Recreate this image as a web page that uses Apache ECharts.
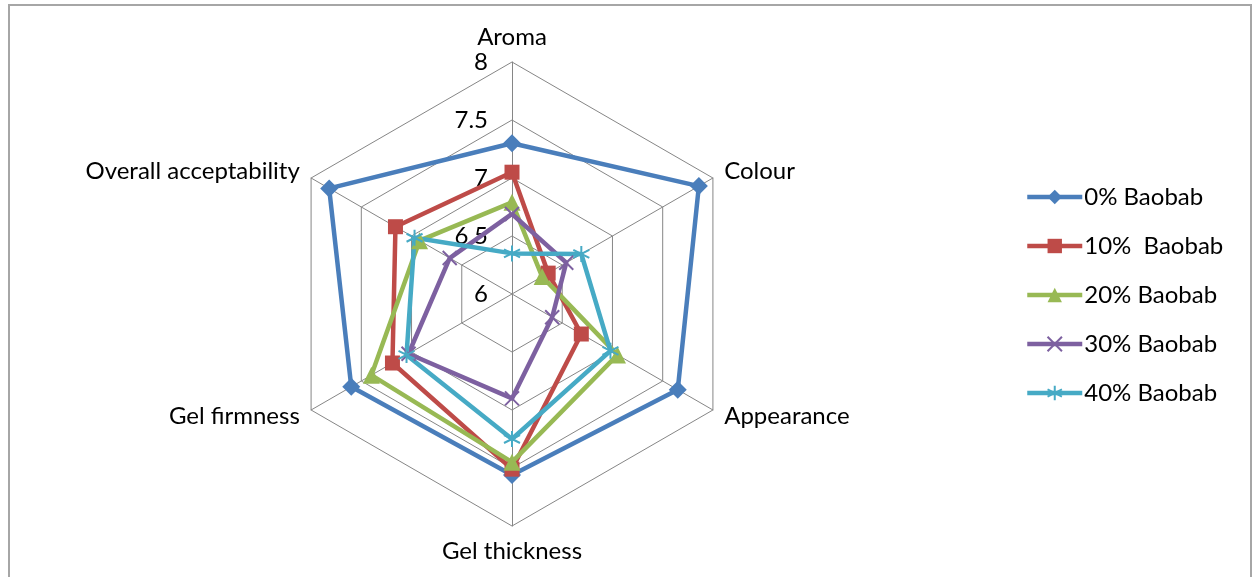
<!DOCTYPE html>
<html>
<head>
<meta charset="utf-8">
<script src="https://cdn.jsdelivr.net/npm/echarts@6/dist/echarts.min.js"></script>
<style>
  html, body { margin: 0; padding: 0; background: #fff; }
  #chart { width: 1257px; height: 577px; }
</style>
</head>
<body>
<div id="chart"></div>
<script>
  // categories in the order they go round the chart (clockwise from the top)
  const categories = ['Aroma', 'Colour', 'Appearance', 'Gel thickness', 'Gel firmness', 'Overall acceptability']
  const seriesNames = ['0% Baobab', '10%  Baobab', '20% Baobab', '30% Baobab', '40% Baobab']
  const baobab0 = [7.30, 7.86, 7.65, 7.56, 7.60, 7.82]
  const baobab10 = [7.05, 6.36, 6.69, 7.51, 7.19, 7.16]
  const baobab20 = [6.79, 6.30, 7.05, 7.45, 7.40, 6.92]
  const baobab30 = [6.69, 6.54, 6.40, 6.90, 7.03, 6.62]
  const baobab40 = [6.35, 6.69, 6.98, 7.25, 7.05, 6.97]
  const tickLabels = [6, 6.5, 7, 7.5, 8]

  const colors = ['#4a7ebb', '#be4b48', '#98b954', '#7d60a0', '#46aac5']
  const crossPath = 'path://M0,0L10,10M10,0L0,10'
  const starPath = 'path://M5,0L5,10M0.7,2.5L9.3,7.5M0.7,7.5L9.3,2.5'
  const symbols = ['diamond', 'rect', 'triangle', crossPath, starPath]
  const symbolSizes = [18, 15, 17, 14, 16]
  const allData = [baobab0, baobab10, baobab20, baobab30, baobab40]

  // echarts places radar indicators counter-clockwise, so walk the list backwards after the first
  const order = [0, 5, 4, 3, 2, 1]
  const font = 'Lato'
  const fontSize = 24

  const chart = echarts.init(document.getElementById('chart'))

  const indicator = order.map((i, k) => {
    const ind = { name: categories[i], min: tickLabels[0], max: tickLabels[tickLabels.length - 1] }
    if (k === 0) {
      ind.axisLabel = {
        show: true,
        color: '#000',
        fontSize: fontSize,
        fontFamily: font,
        margin: 24,
        showMinLabel: true,
        formatter: (v) => String(v)
      }
    }
    return ind
  })

  const series = []
  // empty line series only give the legend its line-with-marker icons
  seriesNames.forEach((name, i) => {
    series.push({
      name,
      type: 'line',
      data: [],
      symbol: symbols[i],
      lineStyle: { color: colors[i], width: 4.5 },
      itemStyle: { color: colors[i], borderColor: colors[i], borderWidth: i >= 3 ? 2 : 0 }
    })
  })
  seriesNames.forEach((name, i) => {
    series.push({
      name,
      type: 'radar',
      symbol: symbols[i],
      symbolSize: symbolSizes[i],
      lineStyle: { color: colors[i], width: 4.5 },
      itemStyle: { color: colors[i], borderColor: colors[i], borderWidth: i >= 3 ? 2 : 0 },
      data: [{ name, value: order.map((k) => allData[i][k]) }]
    })
  })

  const option = {
    backgroundColor: '#fff',
    animation: false,
    graphic: [
      {
        type: 'rect',
        shape: { x: 9, y: 5, width: 1242, height: 620 },
        style: { fill: 'none', stroke: '#a6a6a6', lineWidth: 2 },
        silent: true
      }
    ],
    grid: { show: false, left: 0, top: 0, width: 1, height: 1 },
    xAxis: { type: 'category', show: false },
    yAxis: { type: 'value', show: false },
    legend: {
      orient: 'vertical',
      left: 1020,
      top: 180,
      itemWidth: 55,
      itemHeight: 18,
      itemGap: 25,
      lineStyle: { width: 4.5 },
      textStyle: { fontSize: fontSize, lineHeight: 18, fontFamily: font, color: '#000', padding: [0, 0, 0, -3] },
      data: seriesNames
    },
    radar: {
      center: [512, 294],
      radius: 232,
      startAngle: 90,
      splitNumber: 4,
      shape: 'polygon',
      nameGap: 13,
      axisName: { color: '#000', fontSize: fontSize, fontFamily: font },
      axisLine: { lineStyle: { color: '#868686', width: 1 } },
      splitLine: { lineStyle: { color: '#868686', width: 1 } },
      splitArea: { show: false },
      axisLabel: { show: false },
      indicator
    },
    series
  }

  chart.setOption(option)
</script>
</body>
</html>
